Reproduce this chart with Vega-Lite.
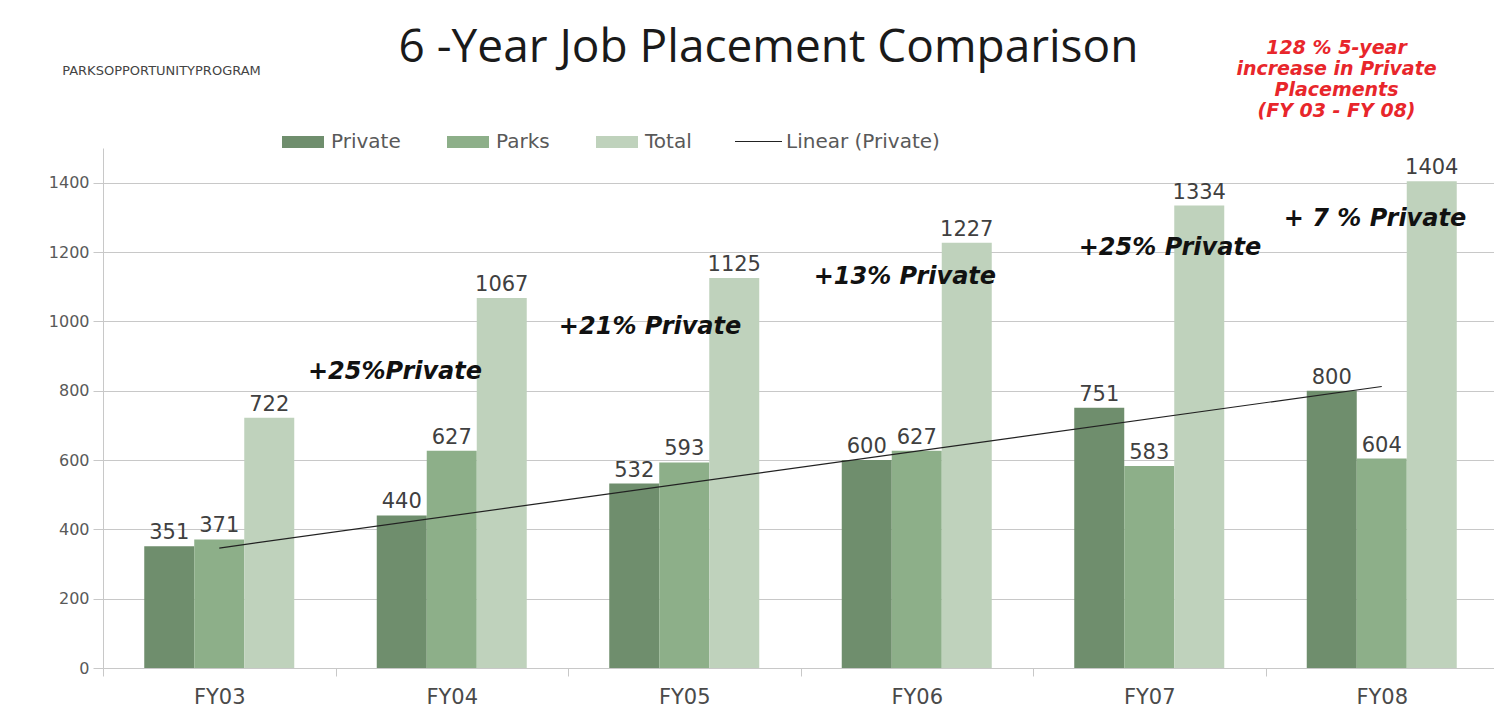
{
  "$schema": "https://vega.github.io/schema/vega-lite/v6.json",
  "autosize": {"type": "none"},
  "padding": {"left": 103, "top": 148, "right": 0, "bottom": 50},
  "width": 1395,
  "height": 520,
  "background": "white",
  "title": {
    "text": "6 -Year Job Placement Comparison",
    "font": "Open Sans",
    "fontSize": 46,
    "fontWeight": "normal",
    "color": "#1a1a1a",
    "anchor": "middle",
    "dx": -32,
    "dy": 38
  },
  "config": {
    "view": {"stroke": null},
    "axis": {"labelFont": "DejaVu Sans", "titleFont": "DejaVu Sans"}
  },
  "datasets": {
    "placements": [
      {"fy": "FY03", "series": "Private", "value": 351},
      {"fy": "FY03", "series": "Parks", "value": 371},
      {"fy": "FY03", "series": "Total", "value": 722},
      {"fy": "FY04", "series": "Private", "value": 440},
      {"fy": "FY04", "series": "Parks", "value": 627},
      {"fy": "FY04", "series": "Total", "value": 1067},
      {"fy": "FY05", "series": "Private", "value": 532},
      {"fy": "FY05", "series": "Parks", "value": 593},
      {"fy": "FY05", "series": "Total", "value": 1125},
      {"fy": "FY06", "series": "Private", "value": 600},
      {"fy": "FY06", "series": "Parks", "value": 627},
      {"fy": "FY06", "series": "Total", "value": 1227},
      {"fy": "FY07", "series": "Private", "value": 751},
      {"fy": "FY07", "series": "Parks", "value": 583},
      {"fy": "FY07", "series": "Total", "value": 1334},
      {"fy": "FY08", "series": "Private", "value": 800},
      {"fy": "FY08", "series": "Parks", "value": 604},
      {"fy": "FY08", "series": "Total", "value": 1404}
    ],
    "trend": [
      {"fy": "FY03", "trend": 346},
      {"fy": "FY08", "trend": 812}
    ],
    "notes": [
      {"pos": 1.256, "val": 854, "label": "+25%Private"},
      {"pos": 2.353, "val": 984, "label": "+21% Private"},
      {"pos": 3.449, "val": 1128, "label": "+13% Private"},
      {"pos": 4.589, "val": 1212, "label": "+25% Private"},
      {"pos": 5.471, "val": 1295, "label": "+ 7 % Private"}
    ]
  },
  "resolve": {"scale": {"x": "independent"}},
  "layer": [
    {
      "layer": [
        {
          "data": {"name": "placements"},
          "mark": {"type": "bar"},
          "encoding": {
            "x": {
              "field": "fy",
              "type": "nominal",
              "sort": ["FY03", "FY04", "FY05", "FY06", "FY07", "FY08"],
              "scale": {"domain": ["FY03", "FY04", "FY05", "FY06", "FY07", "FY08"], "paddingInner": 0, "paddingOuter": 0},
              "axis": {
                "title": "PARKSOPPORTUNITYPROGRAM",
                "titleX": 58,
                "titleY": -598,
                "titleAlign": "center",
                "titleBaseline": "middle",
                "titleFontSize": 13,
                "titleFontWeight": "normal",
                "titleColor": "#444444",
                "labelAngle": 0,
                "labelFontSize": 21,
                "labelColor": "#4a4a4a",
                "labelPadding": 10,
                "tickBand": "extent",
                "tickSize": 8,
                "tickColor": "#c8c8c8",
                "domainColor": "#c8c8c8",
                "grid": false
              }
            },
            "xOffset": {
              "field": "series",
              "type": "nominal",
              "sort": ["Private", "Parks", "Total"],
              "scale": {"domain": ["Private", "Parks", "Total"], "paddingInner": 0, "paddingOuter": 0.825}
            },
            "y": {
              "field": "value",
              "type": "quantitative",
              "scale": {"domain": [0, 1500], "nice": false},
              "axis": {
                "values": [0, 200, 400, 600, 800, 1000, 1200, 1400],
                "format": "d",
                "title": ["128 % 5-year", "increase in Private", "Placements", "(FY 03 - FY 08)"],
                "titleAngle": 0,
                "titleX": 1233,
                "titleY": -110,
                "titleAlign": "center",
                "titleBaseline": "top",
                "titleFontSize": 19,
                "titleFontStyle": "italic",
                "titleFontWeight": "bold",
                "titleColor": "#e8262b",
                "titleLineHeight": 21,
                "labelFontSize": 16,
                "labelColor": "#595959",
                "labelPadding": 4,
                "tickSize": 10,
                "tickColor": "#c8c8c8",
                "domainColor": "#c8c8c8",
                "gridColor": "#c8c8c8",
                "grid": true
              }
            },
            "color": {
              "field": "series",
              "type": "nominal",
              "sort": ["Private", "Parks", "Total"],
              "scale": {"domain": ["Private", "Parks", "Total"], "range": ["#6f8e6d", "#8daf89", "#bfd2bc"]},
              "legend": {
                "title": null,
                "orient": "none",
                "direction": "horizontal",
                "legendX": 179,
                "legendY": -27,
                "symbolType": "M-1,-0.28H1V0.28H-1Z",
                "symbolSize": 1764,
                "symbolStrokeWidth": 0,
                "symbolOpacity": 1,
                "labelFont": "DejaVu Sans",
                "labelFontSize": 20,
                "labelColor": "#595959",
                "labelOffset": 7,
                "columnPadding": 46
              }
            }
          }
        },
        {
          "data": {"name": "placements"},
          "mark": {"type": "text", "baseline": "alphabetic", "dy": -7, "font": "DejaVu Sans", "fontSize": 21, "color": "#404040"},
          "encoding": {
            "x": {"field": "fy", "type": "nominal", "sort": ["FY03", "FY04", "FY05", "FY06", "FY07", "FY08"]},
            "xOffset": {"field": "series", "type": "nominal", "sort": ["Private", "Parks", "Total"]},
            "y": {"field": "value", "type": "quantitative"},
            "text": {"field": "value", "type": "quantitative"}
          }
        },
        {
          "data": {"name": "trend"},
          "mark": {"type": "line", "strokeWidth": 1.2},
          "encoding": {
            "x": {"field": "fy", "type": "nominal", "sort": ["FY03", "FY04", "FY05", "FY06", "FY07", "FY08"]},
            "y": {"field": "trend", "type": "quantitative"},
            "stroke": {
              "datum": "Linear (Private)",
              "scale": {"range": ["#222222"]},
              "legend": {
                "title": null,
                "orient": "none",
                "legendX": 631,
                "legendY": -31,
                "symbolType": "stroke",
                "symbolSize": 2209,
                "symbolStrokeWidth": 1.2,
                "labelFont": "DejaVu Sans",
                "labelFontSize": 20,
                "labelColor": "#595959",
                "labelOffset": 3
              }
            }
          }
        }
      ]
    },
    {
      "data": {"name": "notes"},
      "mark": {"type": "text", "align": "center", "baseline": "middle", "font": "DejaVu Sans", "fontSize": 24, "fontStyle": "italic", "fontWeight": "bold", "color": "#111111"},
      "encoding": {
        "x": {"field": "pos", "type": "quantitative", "scale": {"domain": [0, 6], "nice": false, "zero": false}, "axis": null},
        "y": {"field": "val", "type": "quantitative"},
        "text": {"field": "label", "type": "nominal"}
      }
    }
  ]
}
